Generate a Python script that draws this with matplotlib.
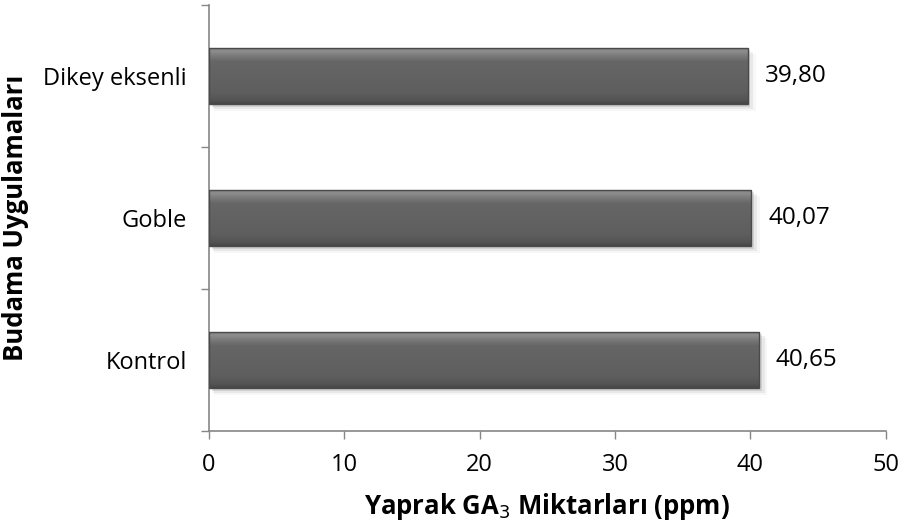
import numpy as np
import matplotlib.pyplot as plt
from matplotlib.colors import LinearSegmentedColormap
from matplotlib.patches import Rectangle

# Data
categories = ['Kontrol', 'Goble', 'Dikey eksenli']
values = [40.65, 40.07, 39.80]
value_labels = ['40,65', '40,07', '39,80']

plt.rcParams['font.family'] = ['Open Sans', 'DejaVu Sans']

fig = plt.figure(figsize=(9.03, 5.22), dpi=100)
ax = fig.add_axes([0.2315, 0.1743, 0.7495, 0.8161])

axis_col = '#868686'
bar_h = 0.4
ypos = np.arange(len(categories))

# vertical gradient: dark bottom line, flat body, light band on top
grad = LinearSegmentedColormap.from_list(
    'bar', [(0.0, '#474747'), (0.08, '#555555'), (0.2, '#5e5e5e'),
            (0.75, '#666666'), (0.85, '#7a7a7a'), (0.93, '#8e8e8e'), (1.0, '#7c7c7c')])
g = np.linspace(0, 1, 128).reshape(-1, 1)

for y, v, lab in zip(ypos, values, value_labels):
    # soft shadow
    for k, a in enumerate([0.10, 0.06, 0.03]):
        ax.add_patch(Rectangle((0.2 + 0.1 * k, y - bar_h / 2 - 0.02 - 0.012 * k), v + 0.1 * k, bar_h,
                               facecolor='black', alpha=a, edgecolor='none', zorder=1))
    bar = ax.barh(y, v, height=bar_h, color='#606060', edgecolor='none', zorder=2)[0]
    im = ax.imshow(g, cmap=grad, aspect='auto', origin='lower',
                   extent=(0, v, y - bar_h / 2, y + bar_h / 2), zorder=3, vmin=0, vmax=1)
    im.set_clip_path(bar)
    ax.add_patch(Rectangle((0, y - bar_h / 2), v, bar_h, facecolor='none',
                           edgecolor='#4a4a4a', linewidth=1.0, zorder=4))
    ax.annotate(lab, xy=(v, y), xytext=(12, 0), textcoords='offset points',
                va='center', ha='left', fontsize=17.5, color='black')

ax.set_xlim(0, 50)
ax.set_ylim(-0.5, 2.5)
ax.set_xticks([0, 10, 20, 30, 40, 50])
ax.set_yticks([-0.5, 0.5, 1.5, 2.5], minor=False)
ax.set_yticklabels([])
ax.set_yticks(ypos, minor=True)
ax.set_yticklabels(categories, minor=True)
ax.tick_params(axis='y', which='minor', length=0, pad=16, labelsize=17)
ax.tick_params(axis='y', which='major', length=6, color=axis_col, width=1)
ax.tick_params(axis='x', length=6, color=axis_col, width=1, labelsize=17, pad=10)

for s in ['top', 'right']:
    ax.spines[s].set_visible(False)
for s in ['left', 'bottom']:
    ax.spines[s].set_color(axis_col)
    ax.spines[s].set_linewidth(1.2)

ax.set_xlabel('Yaprak GA$_3$ Miktarları (ppm)', fontsize=18.5, fontweight='bold', labelpad=10)
ax.set_ylabel('Budama Uygulamaları', fontsize=18.5, fontweight='bold', labelpad=10)

fig.savefig('out.png', dpi=100)
